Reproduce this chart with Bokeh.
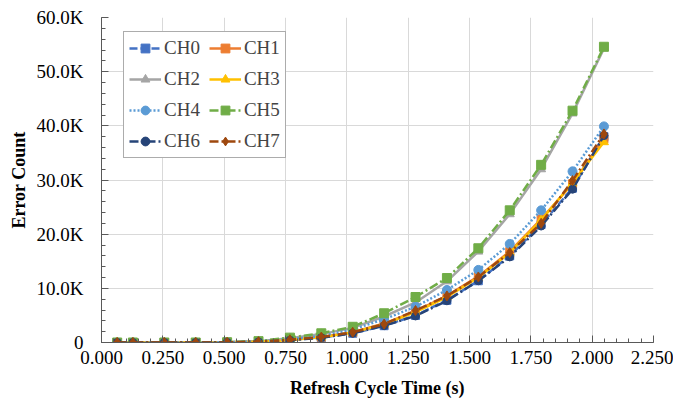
from bokeh.plotting import figure
from bokeh.models import Range1d, SingleIntervalTicker, NumeralTickFormatter, CustomJSTickFormatter
from bokeh.embed import file_html
from bokeh.resources import INLINE

# Refresh cycle time (s)
refresh_time = [0.064, 0.128, 0.256, 0.384, 0.512, 0.640, 0.768, 0.896, 1.024,
                1.152, 1.280, 1.408, 1.536, 1.664, 1.792, 1.920, 2.048]

ch0 = [0, 0, 0, 0, 20, 120, 450, 900, 1700, 3100, 5000, 7800, 11400, 16000, 21800, 28500, 38000]
ch1 = [0, 0, 0, 0, 30, 150, 500, 1000, 1900, 3500, 5800, 8600, 12200, 16800, 22800, 29300, 37600]
ch2 = [0, 0, 0, 0, 50, 230, 800, 1550, 2700, 4800, 7400, 11300, 16800, 23700, 32000, 42300, 54300]
ch3 = [0, 0, 0, 0, 30, 140, 480, 950, 1850, 3400, 5600, 8400, 12000, 16600, 22600, 29500, 37000]
ch4 = [0, 0, 0, 0, 40, 200, 600, 1200, 2400, 4300, 6600, 9700, 13400, 18200, 24400, 31600, 39900]
ch5 = [0, 0, 0, 0, 50, 250, 900, 1700, 2900, 5400, 8400, 11900, 17400, 24400, 32800, 42800, 54600]
ch6 = [0, 0, 0, 0, 20, 110, 420, 880, 1700, 3100, 4900, 7700, 11400, 15800, 21500, 28300, 38200]
ch7 = [0, 0, 0, 0, 30, 150, 500, 1000, 1900, 3400, 5900, 8600, 12100, 16600, 22000, 29900, 38500]

series_names = ["CH0", "CH1", "CH2", "CH3", "CH4", "CH5", "CH6", "CH7"]
series_values = [ch0, ch1, ch2, ch3, ch4, ch5, ch6, ch7]

colors = ["#4472C4", "#ED7D31", "#A5A5A5", "#FFC000", "#5B9BD5", "#70AD47", "#264478", "#9E480E"]
markers = ["square", "square", "triangle", "triangle", "circle", "square", "circle", "diamond"]
dashes = ["8 3", "solid", "solid", "solid", "2 2", "9 3 2 3", "9 3 2 3", "9 3 2 3"]
msizes = [8, 8, 9, 9, 9, 9, 8, 10]

FONT = "Liberation Serif"

p = figure(width=673, height=403, output_backend="svg", toolbar_location=None,
           x_range=Range1d(0, 2.25), y_range=Range1d(0, 60000),
           min_border_left=101, min_border_right=20, min_border_top=17, min_border_bottom=61)
p.outline_line_color = None
p.background_fill_color = "white"
p.border_fill_color = "white"

for name, vals, c, m, d, s in zip(series_names, series_values, colors, markers, dashes, msizes):
    p.line(refresh_time, vals, line_color=c, line_width=2.5, line_dash=d, legend_label=name)
    p.scatter(refresh_time, vals, marker=m, size=s, fill_color=c, line_color=c, legend_label=name)

# axes
p.xaxis.ticker = SingleIntervalTicker(interval=0.25, num_minor_ticks=5)
p.yaxis.ticker = SingleIntervalTicker(interval=10000, num_minor_ticks=5)
p.xaxis.formatter = NumeralTickFormatter(format="0.000")
p.yaxis.formatter = CustomJSTickFormatter(code="return tick == 0 ? '0' : (tick/1000).toFixed(1) + 'K';")

for ax in (p.xaxis[0], p.yaxis[0]):
    ax.axis_line_color = "#595959"
    ax.axis_line_width = 1
    ax.major_tick_line_color = "#595959"
    ax.minor_tick_line_color = "#595959"
    ax.major_tick_in = 7
    ax.major_tick_out = 0
    ax.minor_tick_in = 4
    ax.minor_tick_out = 0
    ax.major_label_text_font = FONT
    ax.major_label_text_font_size = "19px"
    ax.major_label_text_color = "black"
    ax.axis_label_text_font = FONT
    ax.axis_label_text_font_style = "bold"
    ax.axis_label_text_font_size = "18px"
    ax.axis_label_text_color = "black"

p.xaxis.axis_label = "Refresh Cycle Time (s)"
p.yaxis.axis_label = "Error Count"
p.xaxis.major_label_standoff = 8
p.yaxis.major_label_standoff = 18
p.xaxis.axis_label_standoff = 11
p.yaxis.axis_label_standoff = 5

p.xgrid.ticker = p.xaxis.ticker
p.ygrid.ticker = p.yaxis.ticker
p.xgrid.grid_line_color = "#D9D9D9"
p.ygrid.grid_line_color = "#D9D9D9"

# legend (row-major order: CH0 CH1 / CH2 CH3 / ...)
lg = p.legend[0]
items = list(lg.items)
lg.items = [items[i] for i in (0, 2, 4, 6, 1, 3, 5, 7)]
lg.ncols = 2
lg.location = (22, 184)
lg.label_text_font = FONT
lg.label_text_font_size = "19px"
lg.label_height = 22
lg.glyph_height = 22
lg.glyph_width = 32
lg.label_standoff = 3
lg.spacing = 9
lg.padding = 5
lg.margin = 0
lg.border_line_color = "#595959"
lg.border_line_width = 1
lg.background_fill_alpha = 1

open("out.html", "w").write(file_html(p, INLINE))
